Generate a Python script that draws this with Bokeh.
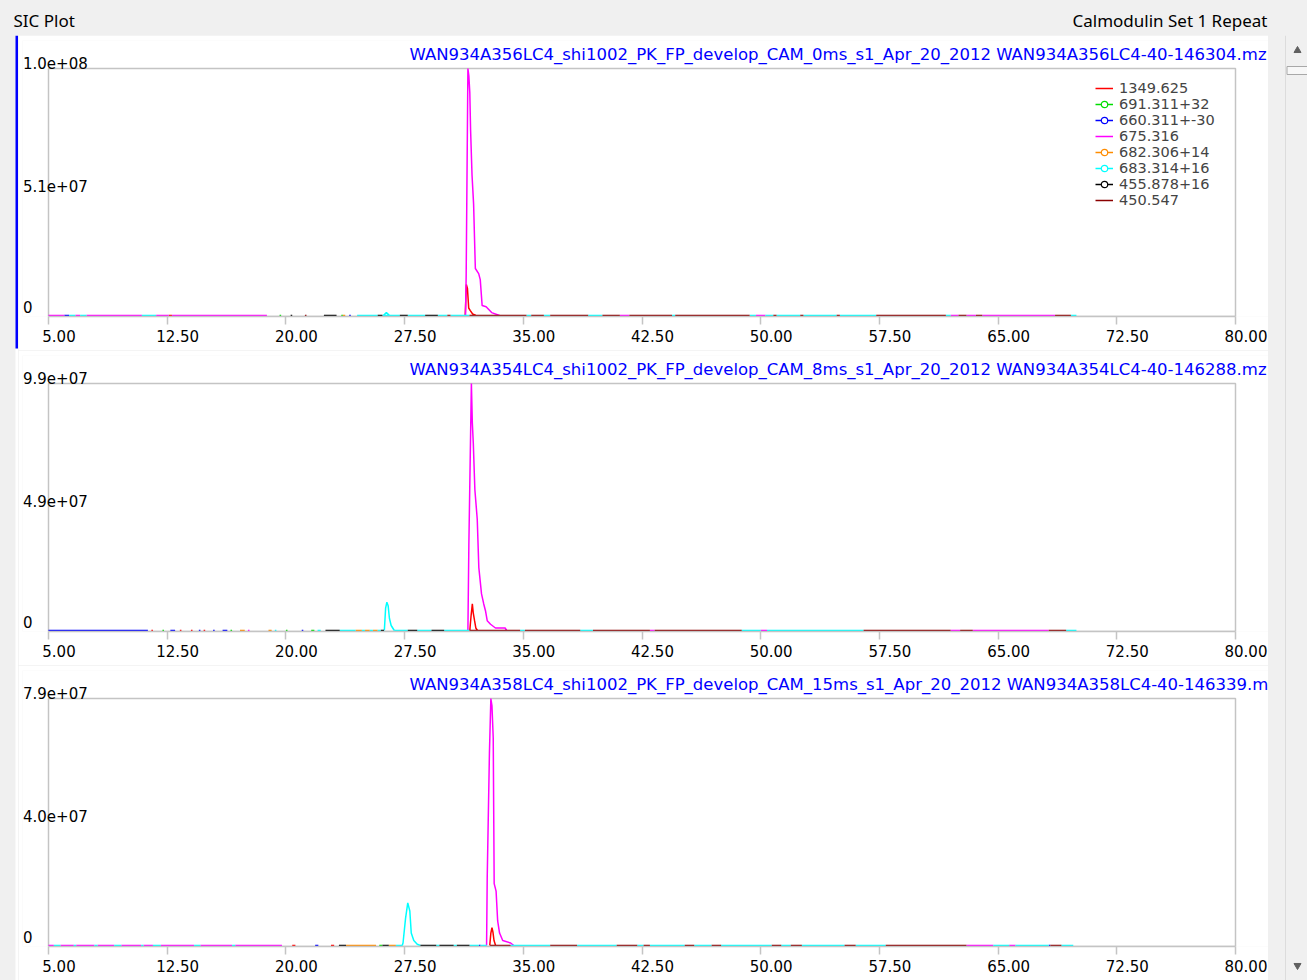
import numpy as np
from bokeh.embed import file_html
from bokeh.layouts import column, row
from bokeh.models import (ColumnDataSource, CustomJSTickFormatter, FixedTicker,
                          GlobalInlineStyleSheet, Label, Legend, LegendItem,
                          LinearAxis, PrintfTickFormatter, Range1d)
from bokeh.plotting import figure
from bokeh.resources import INLINE

HEADER_LEFT = "SIC Plot"
HEADER_RIGHT = "Calmodulin Set 1 Repeat"
# run names as far as the panel shows them
RUN_TITLES = [
    "WAN934A356LC4_shi1002_PK_FP_develop_CAM_0ms_s1_Apr_20_2012 WAN934A356LC4-40-146304.mz",
    "WAN934A354LC4_shi1002_PK_FP_develop_CAM_8ms_s1_Apr_20_2012 WAN934A354LC4-40-146288.mz",
    "WAN934A358LC4_shi1002_PK_FP_develop_CAM_15ms_s1_Apr_20_2012 WAN934A358LC4-40-146339.m",
]

SERIES = ["1349.625", "691.311+32", "660.311+-30", "675.316",
          "682.306+14", "683.314+16", "455.878+16", "450.547"]
SERIES_COLORS = ["#ff0000", "#00dd00", "#0000ff", "#ff00ff",
                 "#ff8c00", "#00ffff", "#000000", "#8b0000"]
SERIES_MARKED = [False, True, True, False, True, True, True, False]

X_TICKS = [5.0, 12.5, 20.0, 27.5, 35.0, 42.5, 50.0, 57.5, 65.0, 72.5, 80.0]
X_TICK_LABELS = ["5.00", "12.50", "20.00", "27.50", "35.00", "42.50",
                 "50.00", "57.50", "65.00", "72.50", "80.00"]
Y_TOPS = [1.02e8, 9.86e7, 7.94e7]
Y_TICK_LABELS = [["0", "5.1e+07", "1.0e+08"],
                 ["0", "4.9e+07", "9.9e+07"],
                 ["0", "4.0e+07", "7.9e+07"]]

# 675.316 main peak, one list per run (time in min, intensity)
MZ675_T = [
    [31.35, 31.39, 31.50, 31.56, 31.62, 31.67, 31.76, 31.86, 31.97, 32.18, 32.28, 32.40, 32.65, 33.00, 33.50],
    [31.50, 31.56, 31.72, 31.78, 31.84, 31.94, 32.09, 32.19, 32.36, 32.50, 32.61, 32.72, 32.93, 33.24, 33.85, 33.95],
    [32.68, 32.72, 32.86, 32.95, 33.02, 33.10, 33.16, 33.28, 33.38, 33.50, 33.70, 34.20, 34.40],
]
MZ675_I = [
    [0, 1.63e7, 1.02e8, 9.9e7, 9.2e7, 7.65e7, 5.8e7, 4.6e7, 1.94e7, 1.73e7, 1.48e7, 4.1e6, 3.6e6, 1.2e6, 0],
    [0, 3.4e7, 9.86e7, 8.28e7, 7.49e7, 5.62e7, 4.44e7, 2.51e7, 1.46e7, 1.06e7, 7.9e6, 3.9e6, 2.5e6, 1.0e6, 1.0e6, 0],
    [0, 2.18e7, 6.19e7, 7.94e7, 7.7e7, 6.67e7, 1.99e7, 1.75e7, 7.9e6, 4.0e6, 1.6e6, 8e5, 0],
]
# 1349.625
MZ1349_T = [
    [31.33, 31.40, 31.47, 31.55, 31.65, 31.80, 32.00],
    [31.62, 31.70, 31.78, 31.84, 31.92, 32.00, 32.10],
    [32.88, 32.95, 33.02, 33.08, 33.15, 33.25],
]
MZ1349_I = [
    [0, 1.28e7, 1.12e7, 3.1e6, 2.0e6, 6e5, 0],
    [0, 5.9e6, 1.06e7, 6.9e6, 3.9e6, 1.0e6, 0],
    [0, 4.0e6, 5.7e6, 4.4e6, 1.6e6, 0],
]
# 683.314+16
MZ683_T = [
    [26.15, 26.35, 26.55],
    [26.22, 26.30, 26.38, 26.46, 26.54, 26.65, 26.85],
    [27.35, 27.40, 27.56, 27.70, 27.83, 27.92, 28.08, 28.30, 28.50],
]
MZ683_I = [
    [0, 1.2e6, 0],
    [0, 8.9e6, 1.13e7, 9.9e6, 4.9e6, 2.0e6, 0],
    [0, 7.9e5, 8.7e6, 1.37e7, 1.11e7, 4.0e6, 1.6e6, 4e5, 0],
]

# near-zero stretches of each trace along the baseline (start, end, series index)
P1_RUN_START = [5.0, 6.0, 6.3, 6.7, 7.0, 7.4, 10.9, 11.8, 12.6, 12.8, 19.6, 20.3, 21.2, 22.4, 23.5, 23.6,
                24.0, 24.5, 25.8, 26.1, 27.2, 27.7, 28.8, 29.6, 30.2, 30.4, 31.6, 35.2, 35.5, 36.3, 36.7,
                39.1, 40.0, 41.1, 41.7, 44.4, 44.6, 49.3, 49.7, 50.3, 50.8, 51.0, 52.5, 52.7, 54.8, 55.0,
                57.3, 61.7, 62.0, 62.5, 63.0, 63.6, 64.0, 68.6, 69.6]
P1_RUN_END = [6.0, 6.3, 6.7, 7.0, 7.4, 10.9, 11.8, 12.6, 12.8, 18.8, 19.7, 20.4, 21.3, 23.2, 23.6, 23.75,
              24.1, 25.8, 26.1, 27.2, 27.7, 28.8, 29.6, 30.2, 30.4, 31.6, 35.2, 35.5, 36.3, 36.7, 39.1,
              40.0, 41.1, 41.7, 44.4, 44.6, 49.3, 49.7, 50.3, 50.8, 51.0, 52.5, 52.7, 54.8, 55.0, 57.3,
              61.7, 62.0, 62.5, 63.0, 63.6, 64.0, 68.6, 69.6, 69.95]
P1_RUN_SERIES = [3, 2, 5, 3, 5, 3, 5, 3, 0, 3, 1, 6, 7, 6, 1, 4,
                 2, 5, 6, 5, 6, 5, 6, 5, 7, 5, 7, 5, 7, 5, 7,
                 5, 7, 3, 7, 5, 7, 5, 3, 5, 7, 5, 7, 5, 7, 5,
                 7, 5, 3, 7, 3, 7, 3, 7, 5]

P2_RUN_START = [5.0, 11.5, 12.2, 12.7, 13.3, 14.0, 14.5, 14.8, 15.4, 16.0, 16.5, 17.1, 17.6, 18.9, 19.3,
                20.0, 21.0, 21.6, 22.0, 22.5, 23.4, 24.4, 24.8, 25.0, 25.3, 25.5, 25.8, 26.0, 26.85,
                27.7, 28.3, 29.2, 30.0, 31.6, 34.8, 35.1, 38.6, 39.4, 43.0, 43.3, 48.8, 50.0, 50.4,
                56.5, 62.0, 62.6, 63.4, 68.2, 69.3]
P2_RUN_END = [11.28, 11.6, 12.3, 13.0, 13.4, 14.1, 14.6, 14.9, 15.5, 16.3, 16.6, 17.4, 17.7, 19.1, 19.4,
              20.1, 21.1, 21.8, 22.2, 23.4, 24.4, 24.8, 25.0, 25.3, 25.5, 25.8, 26.0, 26.2, 27.7,
              28.3, 29.2, 30.0, 31.6, 34.8, 35.1, 38.6, 39.4, 43.0, 43.3, 48.8, 50.0, 50.4, 56.5,
              62.0, 62.6, 63.4, 68.2, 69.3, 69.95]
P2_RUN_SERIES = [2, 0, 1, 2, 0, 0, 2, 0, 2, 2, 1, 4, 3, 4, 5,
                 1, 2, 1, 5, 6, 5, 4, 5, 4, 5, 4, 5, 6, 5,
                 6, 5, 6, 5, 7, 5, 7, 5, 7, 3, 7, 5, 3, 5,
                 7, 3, 7, 3, 7, 5]

P3_RUN_START = [5.0, 5.34, 5.76, 6.6, 6.75, 7.9, 8.1, 9.15, 9.6, 10.85, 11.0, 11.6, 12.1, 14.2, 14.6,
                16.6, 16.8, 20.4, 21.85, 22.85, 23.35, 23.8, 25.9, 26.1, 26.5, 26.95, 28.5, 29.5, 29.7,
                30.6, 30.8, 31.6, 32.2, 32.3, 32.9, 34.2, 36.7, 38.4, 40.9, 42.2, 42.6, 43.0, 45.2,
                45.8, 46.9, 47.5, 50.7, 51.3, 51.9, 52.6, 55.3, 56.0, 57.9, 63.0, 64.7, 65.7, 66.1,
                68.2, 68.3, 69.0]
P3_RUN_END = [5.34, 5.76, 6.6, 6.75, 7.9, 8.1, 9.15, 9.6, 10.85, 11.0, 11.6, 12.1, 14.2, 14.6, 16.6,
              16.8, 19.75, 20.6, 22.05, 23.05, 23.8, 25.7, 26.1, 26.5, 26.95, 27.35, 29.5, 29.7, 30.6,
              30.8, 31.6, 32.2, 32.3, 32.7, 34.2, 36.7, 38.4, 40.9, 42.2, 42.6, 43.0, 45.2, 45.8,
              46.9, 47.5, 50.7, 51.3, 51.9, 52.6, 55.3, 56.0, 57.9, 63.0, 64.7, 65.7, 66.1, 68.2,
              68.3, 69.0, 69.75]
P3_RUN_SERIES = [3, 5, 3, 5, 3, 5, 3, 5, 3, 5, 3, 5, 3, 5, 3,
                 5, 3, 0, 2, 0, 6, 4, 1, 6, 4, 5, 6, 5, 6,
                 5, 6, 5, 2, 5, 7, 5, 7, 5, 7, 5, 7, 5, 7,
                 5, 7, 5, 7, 5, 7, 5, 7, 5, 7, 3, 5, 3, 5,
                 2, 7, 5]

RUNS = [(P1_RUN_START, P1_RUN_END, P1_RUN_SERIES),
        (P2_RUN_START, P2_RUN_END, P2_RUN_SERIES),
        (P3_RUN_START, P3_RUN_END, P3_RUN_SERIES)]
PEAKS = {0: (MZ1349_T, MZ1349_I), 3: (MZ675_T, MZ675_I), 5: (MZ683_T, MZ683_I)}

GRAY = "#f0f0f0"
FRAME = "#c4c4c4"
FONT = "DejaVu Sans"

# pixel layout of one chromatogram panel (plot area box inside the figure)
PW, PH = 1250, 315
BOX_LEFT, BOX_RIGHT = 30, 1217      # px from figure left
FRAME_LEFT = 4                      # frame starts where the y labels start
FRAME_TOP, BOX_TOP, BOX_BOTTOM = 5, 33, 281
Y_LABEL_RAISE = [9, 6.5, 5.5]       # px the 0 / middle / top labels sit above their value


def trace(panel, s):
    starts, ends, owners = RUNS[panel]
    pieces = [([a, b], [0.0, 0.0]) for a, b, k in zip(starts, ends, owners) if k == s]
    if s in PEAKS:
        ts, ints = PEAKS[s]
        pieces.append((ts[panel], ints[panel]))
    pieces.sort(key=lambda pc: pc[0][0])
    xs, ys = [], []
    for px, py in pieces:
        if xs:
            xs.append(np.nan)
            ys.append(np.nan)
        xs += list(px)
        ys += list(py)
    return np.array(xs, dtype=float), np.array(ys, dtype=float)


def chromatogram(panel):
    top = Y_TOPS[panel]
    x0, x1 = X_TICKS[0], X_TICKS[-1]
    xppu = (BOX_RIGHT - BOX_LEFT) / (x1 - x0)
    yppu = (BOX_BOTTOM - 1 - BOX_TOP) / top
    x_range = Range1d(x0 - (BOX_LEFT - FRAME_LEFT) / xppu, x1 + (PW - BOX_RIGHT) / xppu)
    y_range = Range1d(-1 / yppu, top + (BOX_TOP - FRAME_TOP) / yppu)

    p = figure(width=PW, height=PH, x_range=x_range, y_range=y_range,
               min_border_left=FRAME_LEFT, min_border_right=0, min_border_top=FRAME_TOP,
               min_border_bottom=PH - BOX_BOTTOM, toolbar_location=None, output_backend="svg",
               background_fill_color="white", border_fill_color="white", outline_line_color=None)
    p.grid.visible = False
    p.yaxis.visible = False

    # axis 1: the tick marks under the plot box
    ax = p.xaxis[0]
    ax.ticker = FixedTicker(ticks=X_TICKS)
    ax.bounds = (x0, x1)
    ax.formatter = CustomJSTickFormatter(code="return ''")
    ax.major_label_text_font_size = "0px"
    ax.major_label_standoff = 0
    ax.axis_line_color = FRAME
    ax.axis_line_width = 1.5
    ax.major_tick_line_color = FRAME
    ax.major_tick_line_width = 1.5
    ax.major_tick_in = 0
    ax.major_tick_out = 8
    ax.minor_tick_line_color = None

    # axis 2: the tick labels, which sit a little right of their ticks
    shift = 10.5 / xppu
    p.extra_x_ranges = {"labels": Range1d(x_range.start - shift, x_range.end - shift)}
    lab = LinearAxis(x_range_name="labels", ticker=FixedTicker(ticks=X_TICKS),
                     formatter=PrintfTickFormatter(format="%.2f"),
                     major_label_overrides=dict(zip(X_TICKS, X_TICK_LABELS)),
                     axis_line_color=None, major_tick_line_color=None, minor_tick_line_color=None,
                     major_tick_in=0, major_tick_out=0, major_label_standoff=5,
                     major_label_text_font=FONT, major_label_text_font_size="15px",
                     major_label_text_color="black")
    p.add_layout(lab, "below")

    # plot box
    p.quad(left=[x0], right=[x1], bottom=[y_range.start], top=[top],
           fill_color=None, line_color=FRAME, line_width=1.5)

    items = []
    for s, name in enumerate(SERIES):
        t, y = trace(panel, s)
        src = ColumnDataSource(data=dict(t=t, y=y))
        rends = [p.line("t", "y", source=src, line_color=SERIES_COLORS[s], line_width=1.5)]
        if SERIES_MARKED[s]:
            # zero-size points: the ring only shows up in the legend swatch
            rends.append(p.scatter("t", "y", source=src, marker="circle", size=0,
                                   line_color=SERIES_COLORS[s], fill_color="white",
                                   line_width=1.2))
        items.append(LegendItem(label=name, renderers=rends))

    for v, text, raise_px in zip([0, top / 2, top], Y_TICK_LABELS[panel], Y_LABEL_RAISE):
        p.add_layout(Label(x=x0, y=v, text=text, x_offset=-25.5, y_offset=raise_px,
                           text_font=FONT, text_font_size="15px", text_color="black",
                           text_align="left", text_baseline="middle"))

    p.add_layout(Label(x=x0, y=top, text=RUN_TITLES[panel], x_offset=361, y_offset=14.5,
                       text_font=FONT, text_font_size="16.5px", text_color="#0000ff",
                       text_align="left", text_baseline="middle"))

    if panel == 0:
        legend = Legend(items=items, location=(1073, 108), padding=2, spacing=0, margin=0,
                        glyph_width=18, glyph_height=16, label_height=16, label_standoff=6,
                        label_text_font=FONT, label_text_font_size="14.5px",
                        background_fill_alpha=0, border_line_color=None)
        p.add_layout(legend)
    return p


def chrome(width, height):
    return figure(width=width, height=height, x_range=Range1d(0, width),
                  y_range=Range1d(0, height), min_border=0, toolbar_location=None,
                  output_backend="svg", x_axis_type=None, y_axis_type=None,
                  outline_line_color=None, background_fill_color=GRAY, border_fill_color=GRAY)


head = chrome(1307, 35)
head.add_layout(Label(x=13, y=15.3, text=HEADER_LEFT, text_font="Noto Sans", text_font_size="17px",
                      text_baseline="middle", text_color="black"))
head.add_layout(Label(x=1267, y=15.3, text=HEADER_RIGHT, text_font="Noto Sans", text_font_size="17px",
                      text_baseline="middle", text_align="right", text_color="black"))

# selection strip on the left: blue marker beside the first panel
left = chrome(18, 945)
left.quad(left=[15, 15], right=[18, 18], bottom=[0, 632], top=[632, 945],
          fill_color=["white", "#0000ff"], line_color=None)

# scroll bar on the right
right = chrome(39, 945)
right.segment(x0=[17], y0=[0], x1=[17], y1=[945], line_color="#dcdcdc", line_width=1)
right.quad(left=[18.5], right=[39], bottom=[906], top=[914], fill_color="#f7f7f7",
           line_color="#a8a8a8")
right.scatter(x=[29, 29], y=[930, 15], marker=["triangle", "inverted_triangle"], size=7,
              color="#606060")

plots = column(chromatogram(0), chromatogram(1), chromatogram(2))
layout = column(head, row(left, plots, right))
layout.stylesheets = [GlobalInlineStyleSheet(css="body { background: #f0f0f0; margin: 0; overflow: hidden; }")]

open("out.html", "w").write(file_html(layout, INLINE))
